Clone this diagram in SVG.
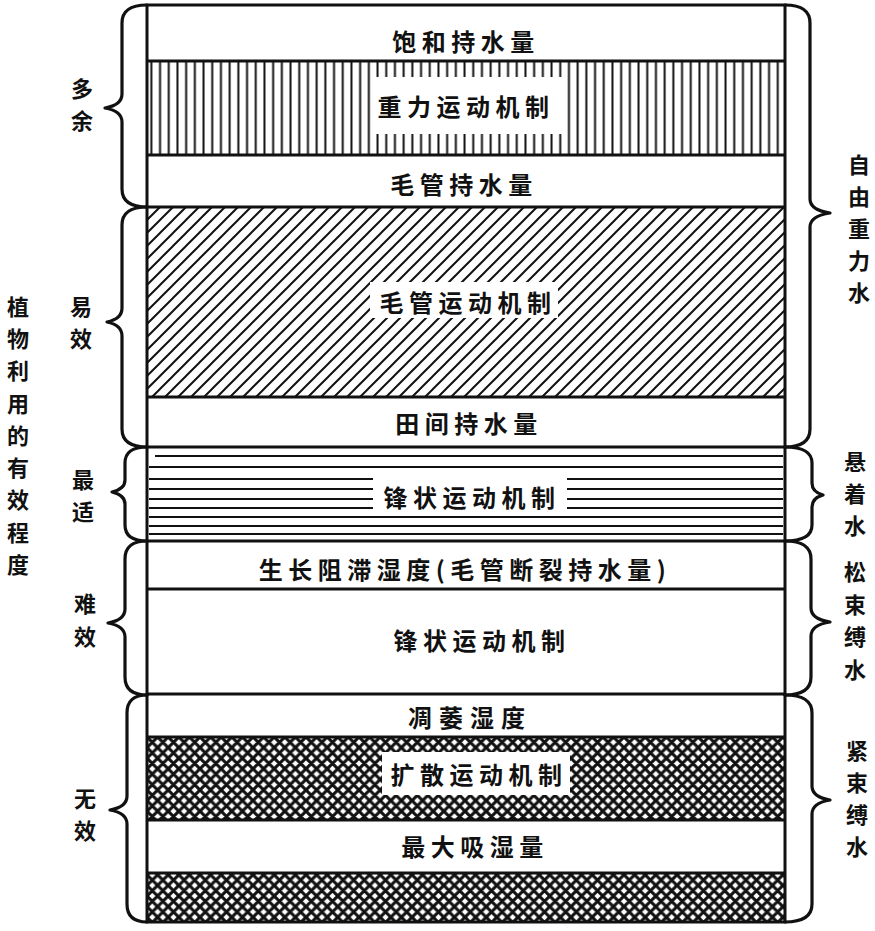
<svg xmlns="http://www.w3.org/2000/svg" width="875" height="931" viewBox="0 0 875 931">
<style>
.t{font-family:"Noto Sans CJK SC","Noto Sans",sans-serif;font-size:24px;font-weight:bold;fill:#111;text-anchor:middle;dominant-baseline:central;letter-spacing:5.5px}
.s{font-family:"Noto Sans CJK SC","Noto Sans",sans-serif;font-size:22px;font-weight:bold;fill:#111;text-anchor:middle;dominant-baseline:central}
.b{fill:none;stroke:#111;stroke-width:3.2;stroke-linecap:round;stroke-linejoin:round}
.ln{stroke:#111;stroke-width:3}
.h{stroke:#111;stroke-width:2.2}
</style>
<defs>
<pattern id="pv" patternUnits="userSpaceOnUse" width="8.7" height="20" x="147">
<line x1="4.35" y1="0" x2="4.35" y2="20" stroke="#111" stroke-width="2"/>
</pattern>
<pattern id="pd" patternUnits="userSpaceOnUse" width="13" height="13" x="147" y="207">
<path d="M0,13 L13,0 M-3,3 L3,-3 M10,16 L16,10" stroke="#111" stroke-width="2" fill="none"/>
</pattern>
<pattern id="px" patternUnits="userSpaceOnUse" width="10.6" height="10.6" x="147" y="737">
<path d="M0,10.6 L10.6,0 M-2,2 L2,-2 M8.6,12.6 L12.6,8.6 M0,0 L10.6,10.6 M-2,8.6 L2,12.6 M8.6,-2 L12.6,2" stroke="#111" stroke-width="3.1" fill="none"/>
</pattern>
</defs>
<rect width="875" height="931" fill="#fff"/>

<g id="band-saturation">
<text class="t" x="466" y="40">饱和持水量</text>
</g>
<g id="band-gravity">
<rect x="147" y="61" width="638" height="94" fill="url(#pv)"/>
<rect x="372" y="77" width="190" height="57" fill="#fff"/>
<text class="t" x="466" y="105">重力运动机制</text>
</g>
<g id="band-capillary-capacity">
<text class="t" x="464" y="183">毛管持水量</text>
</g>
<g id="band-capillary">
<rect x="147" y="207" width="638" height="190" fill="url(#pd)"/>
<rect x="370" y="282" width="188" height="36" fill="#fff"/>
<text class="t" x="468" y="301">毛管运动机制</text>
</g>
<g id="band-field-capacity">
<text class="t" x="469" y="422">田间持水量</text>
</g>
<g id="band-front">
<g class="h">
<line x1="155" y1="456" x2="783" y2="456"/>
<line x1="149" y1="467" x2="783" y2="467"/>
<line x1="149" y1="479" x2="373" y2="479"/><line x1="567" y1="479" x2="783" y2="479"/>
<line x1="149" y1="489" x2="373" y2="489"/><line x1="567" y1="489" x2="783" y2="489"/>
<line x1="149" y1="499" x2="373" y2="499"/><line x1="567" y1="499" x2="783" y2="499"/>
<line x1="149" y1="508" x2="373" y2="508"/><line x1="567" y1="508" x2="783" y2="508"/>
<line x1="149" y1="517" x2="783" y2="517"/>
<line x1="149" y1="526" x2="783" y2="526"/>
<line x1="149" y1="534" x2="783" y2="534"/>
</g>
<text class="t" x="472" y="496">锋状运动机制</text>
</g>
<g id="band-growth-retard">
<text class="t" x="465" y="568">生长阻滞湿度(毛管断裂持水量)</text>
</g>
<g id="band-front2">
<text class="t" x="482" y="639">锋状运动机制</text>
</g>
<g id="band-wilting">
<text class="t" x="470" y="716" style="letter-spacing:7px">凋萎湿度</text>
</g>
<g id="band-diffusion">
<rect x="147" y="737" width="638" height="83" fill="url(#px)"/>
<rect x="382" y="752" width="188" height="43" fill="#fff"/>
<text class="t" x="479" y="773">扩散运动机制</text>
</g>
<g id="band-hygroscopic">
<text class="t" x="475" y="845">最大吸湿量</text>
</g>
<g id="band-bottom">
<rect x="147" y="873" width="638" height="48" fill="url(#px)"/>
</g>

<g id="frame">
<rect x="147" y="5" width="638" height="917" fill="none" stroke="#111" stroke-width="3"/>
<line class="ln" x1="147" y1="61" x2="785" y2="61"/>
<line class="ln" x1="147" y1="155" x2="785" y2="155"/>
<line class="ln" x1="147" y1="207" x2="785" y2="207"/>
<line class="ln" x1="147" y1="397" x2="785" y2="397"/>
<line class="ln" x1="147" y1="447" x2="785" y2="447"/>
<line class="ln" x1="147" y1="541" x2="785" y2="541"/>
<line class="ln" x1="147" y1="589" x2="785" y2="589"/>
<line class="ln" x1="147" y1="694" x2="785" y2="694"/>
<line class="ln" x1="147" y1="737" x2="785" y2="737"/>
<line class="ln" x1="147" y1="820" x2="785" y2="820"/>
<line class="ln" x1="147" y1="873" x2="785" y2="873"/>
</g>

<g id="connectors">
<path class="b" d="M147,5 Q122,5 122,23 L122,94 Q122,105 105,108 Q122,111 122,122 L122,189 Q122,207 147,207"/>
<path class="b" d="M147,207 Q122,207 122,225 L122,308 Q122,319 107,322 Q122,325 122,336 L122,429 Q122,447 147,447"/>
<path class="b" d="M147,447 Q125,447 125,463 L125,480 Q125,489 112,492 Q125,495 125,504 L125,525 Q125,541 147,541"/>
<path class="b" d="M147,541 Q125,541 125,559 L125,609 Q125,620 108,623 Q125,626 125,637 L125,677 Q125,695 147,695"/>
<path class="b" d="M147,695 Q127,695 127,713 L127,796 Q127,807 110,810 Q127,813 127,824 L127,904 Q127,922 147,922"/>
<path class="b" d="M785,5 Q810,5 810,23 L810,199 Q810,210 830,213 Q810,216 810,227 L810,429 Q810,447 785,447"/>
<path class="b" d="M785,447 Q812,447 812,463 L812,483 Q812,492 823,495 Q812,498 812,507 L812,525 Q812,541 785,541"/>
<path class="b" d="M785,541 Q811,541 811,559 L811,608 Q811,619 830,622 Q811,625 811,636 L811,677 Q811,695 785,695"/>
<path class="b" d="M785,695 Q812,695 812,713 L812,786 Q812,797 830,800 Q812,803 812,814 L812,904 Q812,922 785,922"/>
</g>

<g id="label-left-title">
<text class="s"><tspan x="18" y="305">植</tspan><tspan x="18" y="337">物</tspan><tspan x="18" y="369">利</tspan><tspan x="18" y="402">用</tspan><tspan x="18" y="434">的</tspan><tspan x="18" y="466">有</tspan><tspan x="18" y="498">效</tspan><tspan x="18" y="531">程</tspan><tspan x="18" y="563">度</tspan></text>
</g>
<g id="label-excess"><text class="s"><tspan x="82" y="87">多</tspan><tspan x="82" y="119">余</tspan></text></g>
<g id="label-easy"><text class="s"><tspan x="81" y="305">易</tspan><tspan x="81" y="337">效</tspan></text></g>
<g id="label-optimal"><text class="s"><tspan x="83" y="478">最</tspan><tspan x="83" y="510">适</tspan></text></g>
<g id="label-hard"><text class="s"><tspan x="85" y="602">难</tspan><tspan x="85" y="635">效</tspan></text></g>
<g id="label-none"><text class="s"><tspan x="85" y="797">无</tspan><tspan x="85" y="829">效</tspan></text></g>

<g id="label-free"><text class="s"><tspan x="859" y="163">自</tspan><tspan x="859" y="195">由</tspan><tspan x="859" y="227">重</tspan><tspan x="859" y="259">力</tspan><tspan x="859" y="291">水</tspan></text></g>
<g id="label-suspended"><text class="s"><tspan x="855" y="460">悬</tspan><tspan x="855" y="492">着</tspan><tspan x="855" y="524">水</tspan></text></g>
<g id="label-loose"><text class="s"><tspan x="855" y="570">松</tspan><tspan x="855" y="603">束</tspan><tspan x="855" y="635">缚</tspan><tspan x="855" y="668">水</tspan></text></g>
<g id="label-tight"><text class="s"><tspan x="857" y="749">紧</tspan><tspan x="857" y="781">束</tspan><tspan x="857" y="813">缚</tspan><tspan x="857" y="845">水</tspan></text></g>
</svg>
